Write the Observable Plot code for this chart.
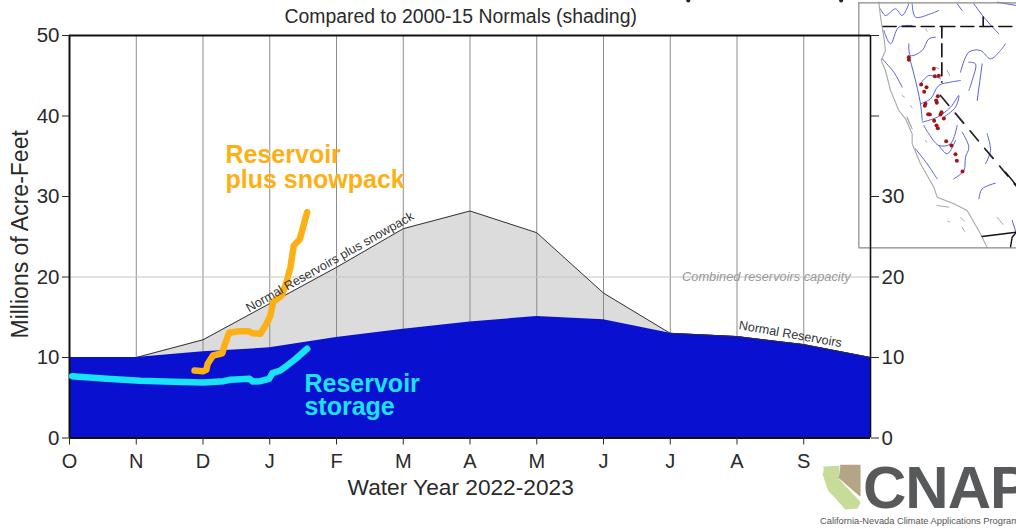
<!DOCTYPE html>
<html><head><meta charset="utf-8">
<script src="https://cdn.jsdelivr.net/npm/d3@7"></script>
<script src="https://cdn.jsdelivr.net/npm/@observablehq/plot@0.6"></script>
<style>
html,body{margin:0;padding:0;background:#fff;width:1016px;height:529px;overflow:hidden}
#page{position:relative;width:1016px;height:529px;overflow:hidden;font-family:"Liberation Sans",Arial,sans-serif}
#map{position:absolute;left:840px;top:0;width:176px;height:260px;overflow:hidden}
#logo{position:absolute;left:800px;top:440px;width:216px;height:89px;overflow:hidden}
#main{position:absolute;left:0;top:0}
#cnap{position:absolute;left:863px;top:456px;font-size:60px;font-weight:700;color:#58595b;line-height:64px;white-space:nowrap;letter-spacing:-1px}
#cnapsub{position:absolute;left:820px;top:516px;font-size:9.3px;color:#555;white-space:nowrap}
</style></head><body>
<div id="page"><div id="map"></div><div id="logo"></div>
<div id="cnap">CNAP</div><div id="cnapsub">California-Nevada Climate Applications Program</div>
<div id="main"></div></div>
<script>
const months = ["O","N","D","J","F","M","A","M","J","J","A","S"];
const monthIndex = [0,1,2,3,4,5,6,7,8,9,10,11,12];
const normalTotal = [10,10,12.2,16.7,21.2,26,28.2,25.5,18,13,12.6,11.6,10];
const normalReservoir = [10,10,10.7,11.2,12.5,13.5,14.4,15.1,14.7,13,12.6,11.6,10];
const yTicks = [0,10,20,30,40,50];
const combinedMonth = [1.873,2.00,2.05,2.07,2.15,2.29,2.33,2.39,2.54,2.69,2.74,2.86,2.95,3.01,3.05,3.18,3.25,3.31,3.36,3.45,3.50,3.56];
const combinedValue = [8.39,8.30,8.47,9.21,10.25,10.53,11.7,13.07,13.27,13.27,13.02,12.94,14.18,15.2,16.87,17.7,19.35,21.2,23.9,24.7,26.2,28.05];
const storageMonth = [0.04,0.56,1.06,1.56,2.01,2.31,2.41,2.70,2.74,2.86,2.99,3.04,3.16,3.26,3.39,3.56];
const storageValue = [7.68,7.35,7.1,6.98,6.9,7.06,7.23,7.35,7.02,7.06,7.35,8.05,8.39,9.0,9.84,11.08];

// map sketch, in inset map units
const coast = [[115,5],[120,50],[130,110],[135,150],[122,180],[135,210],[150,270],[175,330],[195,355],[215,400],[215,430],[240,490],[280,560],[290,590],[340,610],[380,630],[420,700],[440,742]];
const rivers = [
 [[120,25],[135,45],[165,25],[185,45],[205,10]],
 [[215,10],[225,50],[270,40],[295,30]],
 [[130,90],[150,130],[175,80],[215,75]],
 [[205,130],[210,165],[245,150],[265,115],[285,110]],
 [[205,165],[220,220],[240,310],[245,360]],
 [[125,175],[160,215],[185,260]],
 [[240,250],[265,225],[300,235]],
 [[240,310],[270,295],[295,255],[330,245],[360,240]],
 [[245,365],[290,350],[330,320],[355,285],[345,320],[310,350]],
 [[250,375],[265,400],[295,435],[330,430],[350,375]],
 [[295,435],[320,460],[345,420]],
 [[365,395],[385,440],[375,470],[370,510],[340,535]],
 [[225,445],[260,490],[290,535]],
 [[360,215],[385,155],[420,150],[450,175],[480,150],[495,130]],
 [[385,185],[405,190],[395,240],[385,270]],
 [[425,190],[410,300]],
 [[350,10],[365,30]],[[400,10],[430,50],[475,100]],
 [[440,400],[450,450],[435,490]],
 [[415,595],[425,565],[465,548]],
 [[470,5],[528,15]],
 [[515,660],[528,700]]
];
const lakes = [[[185,285],[192,290]],[[210,315],[215,322]],[[320,210],[328,225]],[[285,200],[295,205]],[[200,350],[215,385],[205,365],[200,350]],[[470,650],[488,672]],[[360,650],[372,662]],[[365,680],[372,692]],[[290,615],[325,620]],[[322,662],[327,664]],[[255,85],[260,92]],[[255,420],[258,425]]];
const borderDashed = [[[128,78],[300,78],[304,78],[304,245]],[[304,78],[528,78]],[[428,50],[428,78]]];
const borderDashedThick = [[[300,285],[530,560]]];
const borderSolid = [[[425,708],[528,695]],[[495,515],[528,555]],[[510,740],[515,710],[528,695]]];
const damDots = [[205,170],[205,178],[280,205],[283,227],[295,226],[242,252],[258,260],[251,274],[292,287],[255,310],[253,316],[287,300],[289,307],[263,341],[268,342],[303,335],[300,342],[310,354],[281,361],[288,375],[292,383],[317,422],[333,435],[345,461],[349,481],[366,513]];

// logo shapes, in logo units
const logoGreen = [[70,80],[115,78],[112,115],[178,185],[170,202],[135,205],[105,170],[85,150],[68,100]];
const logoTan = [[120,75],[178,75],[178,165],[115,110]];

const mapMarks = [
 Plot.line(coast,{x:d=>d[0],y:d=>d[1],stroke:"#a8a8a8",strokeWidth:1.1})
];
rivers.forEach(r=>mapMarks.push(Plot.line(r,{x:d=>d[0],y:d=>d[1],stroke:"#5a62d8",strokeWidth:1,curve:"catmull-rom"})));
lakes.forEach(r=>mapMarks.push(Plot.line(r,{x:d=>d[0],y:d=>d[1],stroke:"#a8a8a8",strokeWidth:1})));
borderDashed.forEach(r=>mapMarks.push(Plot.line(r,{x:d=>d[0],y:d=>d[1],stroke:"#111",strokeWidth:1.6,strokeDasharray:"13,6"})));
borderDashedThick.forEach(r=>mapMarks.push(Plot.line(r,{x:d=>d[0],y:d=>d[1],stroke:"#222",strokeWidth:1.7,strokeDasharray:"13,10"})));
borderSolid.forEach(r=>mapMarks.push(Plot.line(r,{x:d=>d[0],y:d=>d[1],stroke:"#111",strokeWidth:1.4})));
mapMarks.push(Plot.dot(damDots,{x:d=>d[0],y:d=>d[1],r:2,fill:"#a01616"}));
mapMarks.push(Plot.ruleX([55],{y1:7,y2:742,stroke:"#888",strokeWidth:1.2}));
mapMarks.push(Plot.ruleY([7],{x1:55,x2:528,stroke:"#888",strokeWidth:1.2}));
mapMarks.push(Plot.ruleY([742],{x1:55,x2:528,stroke:"#888",strokeWidth:1.2}));

document.getElementById("map").append(Plot.plot({
 width:176,height:260,margin:0,
 x:{domain:[0,528],range:[0,176],axis:null},
 y:{domain:[0,780],range:[0,260],axis:null},
 style:{background:"transparent"},
 marks:mapMarks
}));

document.getElementById("logo").append(Plot.plot({
 width:216,height:89,margin:0,
 x:{domain:[0,648],range:[0,216],axis:null},
 y:{domain:[0,267],range:[0,89],axis:null},
 style:{background:"transparent"},
 marks:[
  Plot.line(logoGreen,{x:d=>d[0],y:d=>d[1],fill:"#c8dc9a",stroke:"#c8dc9a"}),
  Plot.line(logoTan,{x:d=>d[0],y:d=>d[1],fill:"#b3a586",stroke:"#b3a586"})
 ]
}));

const normalRows = monthIndex.map((m,i)=>({m,total:normalTotal[i],res:normalReservoir[i]}));
const combinedRows = combinedMonth.map((m,i)=>({m,v:combinedValue[i]}));
const storageRows = storageMonth.map((m,i)=>({m,v:storageValue[i]}));
const ink = "#2a2a2a";
const label = (t,x,y,o)=>Plot.text([t],{x:()=>x,y:()=>y,text:d=>d,fontFamily:"Liberation Sans, Arial, sans-serif",...o});

document.getElementById("main").append(Plot.plot({
 width:1016,height:529,
 marginLeft:69,marginRight:146,marginTop:35,marginBottom:91.5,
 x:{domain:[0,12],label:null},
 y:{domain:[0,50],label:null},
 style:{background:"transparent",fontFamily:"Liberation Sans, Arial, sans-serif"},
 marks:[
  Plot.areaY(normalRows,{x:"m",y:"total",fill:"#dcdcdc"}),
  Plot.ruleX(monthIndex.slice(1,12),{stroke:"#8c8c8c",strokeWidth:1}),
  Plot.ruleY([20],{stroke:"#c4c4c4",strokeWidth:1}),
  Plot.line(normalRows,{x:"m",y:"total",stroke:"#333",strokeWidth:1}),
  Plot.areaY(normalRows,{x:"m",y:"res",fill:"#0a10d0"}),
  Plot.line(normalRows.slice(9),{x:"m",y:"res",stroke:"#333",strokeWidth:0.8}),
  Plot.ruleX([0],{stroke:"#111",strokeWidth:2}),
  Plot.ruleX([12],{stroke:"#111",strokeWidth:1.6}),
  Plot.ruleY([50],{stroke:"#111",strokeWidth:2}),
  Plot.ruleY([0],{stroke:"#111",strokeWidth:2}),
  Plot.axisX({anchor:"bottom",ticks:monthIndex.slice(0,12),tickFormat:i=>months[i],tickSize:7,tickPadding:9,fontSize:20,color:ink,label:null}),
  Plot.axisY({anchor:"left",ticks:yTicks,tickSize:7,tickPadding:3,fontSize:20.5,color:ink,label:null}),
  Plot.axisY({anchor:"right",ticks:yTicks,tickSize:8,tickPadding:3,fontSize:20.5,color:ink,label:null,tickFormat:d=>d<=30?d:""}),
  Plot.line(storageRows,{x:"m",y:"v",stroke:"#19e3fa",strokeWidth:6.5,strokeLinejoin:"round"}),
  Plot.line(combinedRows,{x:"m",y:"v",stroke:"#fdb015",strokeWidth:6.5,strokeLinejoin:"round"}),
  label("Reservoir",2.337,35.2,{fill:"#fdb015",fontSize:25,fontWeight:700,textAnchor:"start"}),
  label("plus snowpack",2.337,32.1,{fill:"#fdb015",fontSize:25,fontWeight:700,textAnchor:"start"}),
  label("Reservoir",3.52,6.77,{fill:"#19e3fa",fontSize:25,fontWeight:700,textAnchor:"start"}),
  label("storage",3.52,3.79,{fill:"#19e3fa",fontSize:25,fontWeight:700,textAnchor:"start"}),
  label("Normal Reservoirs plus snowpack",3.9,21.85,{fill:"#333",fontSize:12.6,rotate:-29.5}),
  label("Normal Reservoirs",10.8,12.9,{fill:"#333",fontSize:12.6,rotate:10}),
  label("Combined reservoirs capacity",10.44,20,{fill:"#999",fontSize:12.8,fontStyle:"italic"}),
  label("Compared to 2000-15 Normals (shading)",5.86,52.3,{fill:ink,fontSize:19.4}),
  label("Water Year 2022-2023",5.86,-6.2,{fill:ink,fontSize:22.7}),
  label("Millions of Acre-Feet",-0.73,25.3,{fill:ink,fontSize:23,rotate:-90}),
  Plot.dot([9.27,11.56],{x:d=>d,y:()=>54.35,r:2,fill:"#222"})
 ]
}));
</script></body></html>
